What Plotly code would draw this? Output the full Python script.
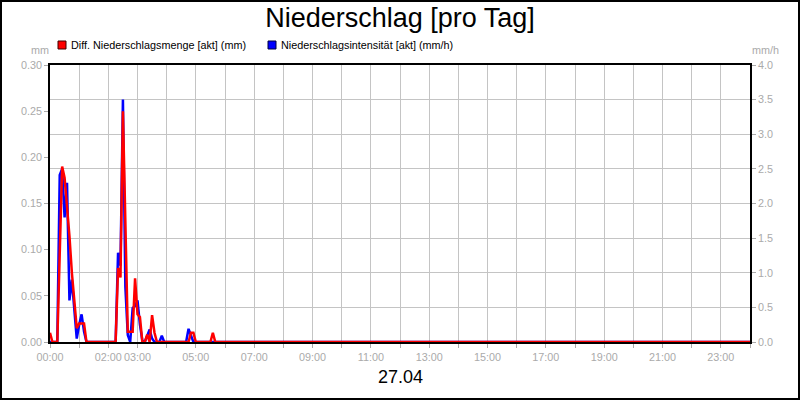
import plotly.graph_objects as go

DAY = "2024-04-27"
NEXT_DAY = "2024-04-28 00:00"

# Diff. Niederschlagsmenge [akt] (mm) - 5 minute values
mm_times = ["00:00", "00:05", "00:15", "00:20", "00:25", "00:30", "00:35", "00:40", "00:45",
            "00:50", "00:55", "01:00", "01:05", "01:10", "01:15",
            "02:15", "02:20", "02:25", "02:30", "02:35", "02:40", "02:45", "02:50", "02:55",
            "03:00", "03:05", "03:10", "03:15", "03:20", "03:25", "03:30", "03:35", "03:40",
            "04:45", "04:50", "04:55", "05:00", "05:30", "05:35", "05:40"]
mm_values = [0.01, 0.0, 0.0, 0.10, 0.19, 0.178, 0.15, 0.115, 0.075,
             0.04, 0.015, 0.02, 0.02, 0.02, 0.0,
             0.0, 0.08, 0.07, 0.25, 0.12, 0.011, 0.011, 0.011, 0.069,
             0.03, 0.027, 0.0, 0.0, 0.008, 0.0, 0.029, 0.01, 0.0,
             0.0, 0.01, 0.01, 0.0, 0.0, 0.01, 0.0]

# Niederschlagsintensität [akt] (mm/h)
mmh_times = ["00:00", "00:15", "00:20", "00:25", "00:30", "00:35", "00:40", "00:45", "00:50",
             "00:55", "01:00", "01:05", "01:10", "01:15",
             "02:15", "02:20", "02:25", "02:30", "02:35", "02:40", "02:45", "02:50", "02:55",
             "03:00", "03:05", "03:10", "03:15", "03:20", "03:25", "03:30", "03:35",
             "03:45", "03:50", "03:55", "04:40", "04:45", "04:50", "04:55"]
mmh_values = [0.0, 0.0, 2.41, 2.5, 1.8, 2.3, 0.6, 0.9, 0.47,
              0.05, 0.25, 0.4, 0.15, 0.0,
              0.0, 1.29, 1.1, 3.5, 0.8, 0.1, 0.0, 0.49, 0.52,
              0.6, 0.25, 0.02, 0.0, 0.1, 0.18, 0.05, 0.0,
              0.0, 0.09, 0.0, 0.0, 0.19, 0.1, 0.0]

hour_ticks = list(range(25))
labeled_hours = [0, 2, 3, 5, 7, 9, 11, 13, 15, 17, 19, 21, 23]

mm_ticks = [0.0, 0.05, 0.10, 0.15, 0.20, 0.25, 0.30]
mmh_ticks = [0.0, 0.5, 1.0, 1.5, 2.0, 2.5, 3.0, 3.5, 4.0]

title_text = "Niederschlag [pro Tag]"
date_label = "27.04"
name_mm = "Diff. Niederschlagsmenge [akt] (mm)"
name_mmh = "Niederschlagsintensität [akt] (mm/h)"


def stamp(t):
    return f"{DAY} {t}"


x_mm = [stamp(t) for t in mm_times] + [NEXT_DAY]
y_mm = mm_values + [0.0]
x_mmh = [stamp(t) for t in mmh_times] + [NEXT_DAY]
y_mmh = mmh_values + [0.0]

tickvals = [f"{DAY} {h:02d}:00" if h < 24 else NEXT_DAY for h in hour_ticks]
ticktext = [f"{h:02d}:00" if h in labeled_hours else "" for h in hour_ticks]

GRAY = "#aaaaaa"
GRID = "#c4c4c4"
FONT = "Liberation Sans, Arial, sans-serif"
TICK = 10.8

fig = go.Figure()
fig.add_trace(go.Scatter(x=x_mmh, y=y_mmh, mode="lines", name=name_mmh,
                         line=dict(color="#0000ff", width=2.5), yaxis="y", showlegend=False))
fig.add_trace(go.Scatter(x=x_mm, y=y_mm, mode="lines", name=name_mm,
                         line=dict(color="#ff0000", width=2.5), yaxis="y2", showlegend=False))

W, H = 800, 400
L, R, T, B = 50, 50, 65, 58
PW, PH = W - L - R, H - T - B


def px(x):
    return (x - L) / PW


def py(y):
    return (H - B - y) / PH


fig.update_layout(
    width=W, height=H,
    margin=dict(l=L, r=R, t=T, b=B, autoexpand=False),
    paper_bgcolor="white", plot_bgcolor="white",
    font=dict(family=FONT, size=TICK, color=GRAY),
    title=dict(text=title_text, x=0.5, xanchor="center", y=1 - 18 / H, yanchor="middle",
               automargin=False, font=dict(family=FONT, size=27, color="black")),
    xaxis=dict(type="date", range=[stamp("00:00"), NEXT_DAY], automargin=False,
               tickmode="array", tickvals=tickvals, ticktext=ticktext, tickangle=0,
               showgrid=True, gridcolor=GRID, gridwidth=1,
               ticks="outside", ticklen=4, tickcolor=GRAY,
               showline=True, linecolor="black", linewidth=1.5, mirror=True,
               zeroline=False, tickfont=dict(color=GRAY, size=TICK)),
    yaxis=dict(side="right", range=[0, 4.0], tickmode="array", tickvals=mmh_ticks,
               tickformat=".1f", showgrid=True, gridcolor=GRID, gridwidth=1, automargin=False,
               ticks="outside", ticklen=4, tickcolor=GRAY,
               showline=True, linecolor="black", linewidth=1.5, zeroline=False,
               tickfont=dict(color=GRAY, size=TICK)),
    yaxis2=dict(side="left", overlaying="y", range=[0, 0.30], tickmode="array",
                tickvals=mm_ticks, tickformat=".2f", showgrid=False, automargin=False,
                ticks="outside", ticklen=4, tickcolor=GRAY,
                showline=True, linecolor="black", linewidth=1.5, zeroline=False,
                tickfont=dict(color=GRAY, size=TICK)),
    showlegend=False,
)

shapes = [
    # outer frame
    dict(type="rect", xref="paper", yref="paper",
         x0=px(1), x1=px(799), y0=py(399), y1=py(1),
         line=dict(color="black", width=2), fillcolor="rgba(0,0,0,0)", layer="above"),
    # legend squares
    dict(type="rect", xref="paper", yref="paper",
         x0=px(58), x1=px(66), y0=py(49), y1=py(41),
         line=dict(color="#400000", width=1), fillcolor="#ff0000"),
    dict(type="rect", xref="paper", yref="paper",
         x0=px(268), x1=px(276), y0=py(49), y1=py(41),
         line=dict(color="#000040", width=1), fillcolor="#0000ff"),
]

annotations = [
    dict(text=name_mm, xref="paper", yref="paper", x=px(69), y=py(45),
         xanchor="left", yanchor="middle", showarrow=False,
         font=dict(family=FONT, size=10.8, color="black")),
    dict(text=name_mmh, xref="paper", yref="paper", x=px(279), y=py(45),
         xanchor="left", yanchor="middle", showarrow=False,
         font=dict(family=FONT, size=10.8, color="black")),
    dict(text="mm", xref="paper", yref="paper", x=px(40), y=py(50),
         xanchor="center", yanchor="middle", showarrow=False,
         font=dict(family=FONT, size=TICK, color=GRAY)),
    dict(text="mm/h", xref="paper", yref="paper", x=px(765), y=py(50),
         xanchor="center", yanchor="middle", showarrow=False,
         font=dict(family=FONT, size=TICK, color=GRAY)),
    dict(text=date_label, xref="paper", yref="paper", x=px(400), y=py(377),
         xanchor="center", yanchor="middle", showarrow=False,
         font=dict(family=FONT, size=18, color="black")),
]

fig.update_layout(shapes=shapes, annotations=annotations)

fig.write_html(
    "out.html",
    config={"displayModeBar": False},
    post_script="document.body.style.margin='0';document.body.style.overflow='hidden';",
)
